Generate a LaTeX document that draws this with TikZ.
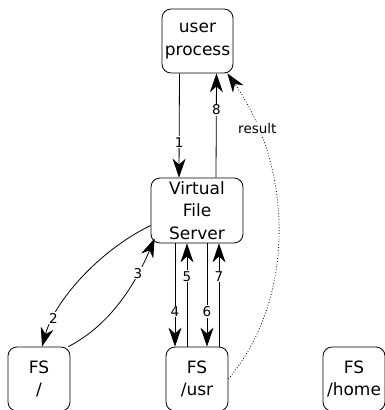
\documentclass[tikz,border=0pt]{standalone}
\usepackage{fontspec}
\setmainfont{DejaVu Sans}
\usetikzlibrary{arrows.meta}
\begin{document}
\begin{tikzpicture}[x=1pt,y=-1pt,
  box/.style={draw,line width=0.8pt,rounded corners=9pt,align=center,inner sep=1pt,
    minimum height=64pt,font=\fontsize{17}{22.5}\selectfont},
  msg/.style={-{Stealth[length=19pt,width=13pt,inset=6pt]},line width=0.8pt},
  num/.style={fill=white,inner sep=1pt,font=\fontsize{13.5}{15}\selectfont}]
  \useasboundingbox (0,0) rectangle (384,410);
  % boxes
  \node[box,minimum width=71pt] (user) at (197.5,41) {user\\process};
  \node[box,minimum width=92pt,minimum height=65pt,inner sep=0pt] (vfs) at (197,210.5) {Virtual\\File\\Server};
  \node[box,minimum width=62pt] (fsroot) at (39,379) {FS\\/};
  \node[box,minimum width=62pt] (fsusr) at (197,379) {FS\\/usr};
  \node[box,minimum width=62pt] (fshome) at (354,379) {FS\\/home};
  % requests and replies
  \draw[msg] ([xshift=-18pt]user.south) -- node[num,pos=0.66] {1} ([xshift=-18pt]vfs.north);
  \draw[msg] ([xshift=19pt]vfs.north) -- node[num,pos=0.65] {8} ([xshift=19pt]user.south);
  \draw[msg] ([yshift=-15pt]vfs.west) .. controls (100,250) and (55,300) .. node[num,pos=0.8] {2} ([xshift=3pt]fsroot.north);
  \draw[msg] ([xshift=-2pt]fsroot.north east) .. controls (110,325) and (135,285) .. node[num,pos=0.74] {3} ([shift={(4pt,5pt)}]vfs.south west);
  \draw[msg] ([xshift=-22pt]vfs.south) -- node[num,pos=0.66] {4} ([xshift=-22pt]fsusr.north);
  \draw[msg] ([xshift=-10pt]fsusr.north) -- node[num,pos=0.68] {5} ([xshift=-10pt]vfs.south);
  \draw[msg] ([xshift=10pt]vfs.south) -- node[num,pos=0.66] {6} ([xshift=10pt]fsusr.north);
  \draw[msg] ([xshift=22pt]fsusr.north) -- node[num,pos=0.68] {7} ([xshift=22pt]vfs.south);
  % direct result
  \draw[msg,dotted] (fsusr.east) .. controls (295,300) and (295,170) .. node[num,pos=0.82] {result} ([xshift=-6pt]user.south east);
\end{tikzpicture}
\end{document}
